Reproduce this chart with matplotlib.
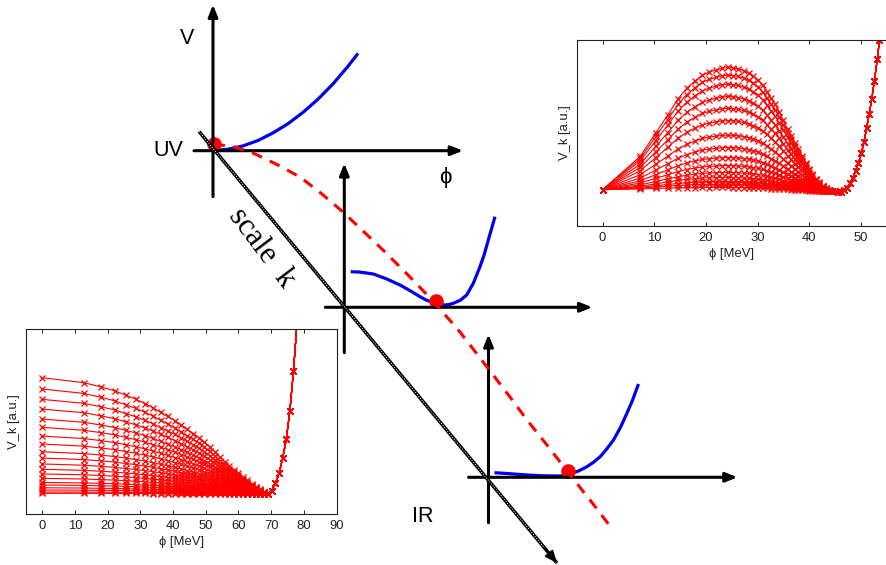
import numpy as np
import matplotlib
matplotlib.use("Agg")
import matplotlib.pyplot as plt

plt.rcParams['font.family'] = ['Liberation Sans', 'DejaVu Sans']

# ---------------- data: upper-right inset (broken-phase flow) ----------------
tr_phi = [0, 7.3, 10.3, 12.6, 14.6, 16.3, 17.9, 19.3, 20.6, 21.9, 23.1, 24.2, 25.3,
          26.3, 27.3, 28.3, 29.2, 30.1, 31.0, 31.8, 32.6, 33.4, 34.2, 35.0, 35.8,
          36.5, 37.2, 37.9, 38.6, 39.3, 40.0, 40.6, 41.3, 41.9, 42.6, 43.2, 43.8,
          44.4, 45.0]
tr_floor = [19.4, 19.4, 19.4, 19.4, 19.3, 19.3, 19.3, 19.3, 19.2, 19.2, 19.2, 19.2,
            19.1, 19.1, 19.1, 19.1, 19.0, 19.0, 19.0, 19.0, 18.9, 18.9, 18.9, 18.9,
            18.8, 18.8, 18.8, 18.8, 18.8, 18.7, 18.7, 18.7, 18.7, 18.7, 18.6, 18.6,
            18.6, 18.6, 18.6]
tr_profile = [0, 0.272, 0.463, 0.608, 0.743, 0.829, 0.889, 0.935, 0.962, 0.98, 0.993,
              1.0, 0.998, 0.99, 0.976, 0.956, 0.932, 0.898, 0.857, 0.806, 0.752, 0.705,
              0.64, 0.572, 0.504, 0.451, 0.39, 0.337, 0.284, 0.232, 0.18, 0.139, 0.101,
              0.071, 0.045, 0.024, 0.012, 0.005, 0.0]
tr_peaks = [66.0, 61.9, 57.0, 50.4, 44.0, 37.4, 29.6, 22.9, 17.5, 13.2, 9.5, 6.8, 4.6, 3.2, 1.4]
tr_tail_phi = [45.6, 46.2, 46.7, 47.3, 47.9, 48.4, 49.0, 49.5, 50.1, 50.6, 51.1, 51.6,
               52.1, 52.6, 53.2, 53.6, 54.1]
tr_tail_v = [18.2, 18.3, 19.0, 20.5, 22.8, 25.5, 29.5, 33.5, 39.0, 45.0, 52.5, 60.0,
             68.0, 77.8, 90.0, 100.0, 110.0]
tr_xticks = [0, 10, 20, 30, 40, 50]

# ---------------- data: lower-left inset (symmetric-phase flow) ----------------
bl_phi = [0, 12.8, 18.1, 22.2, 25.6, 28.6, 31.4, 33.9, 36.2, 38.4, 40.5, 42.5, 44.3,
          46.2, 47.9, 49.6, 51.2, 52.8, 54.3, 55.8, 57.2, 58.7, 60.0, 61.4, 62.7,
          64.0, 65.3, 66.5, 67.7, 68.9]
bl_profile = [1.0, 0.957, 0.920, 0.887, 0.849, 0.816, 0.778, 0.742, 0.702, 0.667, 0.630,
              0.593, 0.556, 0.520, 0.485, 0.447, 0.405, 0.362, 0.318, 0.278, 0.242,
              0.207, 0.178, 0.146, 0.117, 0.089, 0.063, 0.040, 0.019, 0.0]
bl_floor = 10.8
bl_heights = [63.0, 56.9, 51.3, 46.0, 40.6, 36.1, 31.4, 27.1, 22.9, 19.5, 16.3, 13.4,
              10.9, 8.5, 6.3, 4.9, 3.4, 2.2, 1.1, 0.4]
bl_tail_phi = [70.1, 71.3, 72.4, 73.5, 74.6, 75.7, 76.8, 77.9]
bl_tail_v = [12.6, 16.6, 22.0, 30.3, 40.5, 56.0, 77.5, 104.0]
bl_xticks = [0, 10, 20, 30, 40, 50, 60, 70, 80, 90]

# ---------------- data: schematic potentials (local units) ----------------
uv_phi = [0, 15, 30, 45, 60, 75, 90, 105, 120, 135, 145]
uv_V = [0, 1.5, 4.8, 10.2, 17.8, 27.0, 38.3, 51.5, 66.8, 84.4, 97.3]
mid_phi = [6.4, 15, 29, 42, 55.7, 66, 75.7, 82, 89, 94, 99, 104, 109, 116, 122.4,
           129, 135.7, 140, 144, 150.7]
mid_V = [35.6, 35.3, 33.3, 28.5, 22.3, 16.5, 10.6, 7.2, 4.6, 3.0, 2.3, 2.6, 4.0, 7.0,
         12.3, 24.0, 40.6, 53.0, 67.3, 90.6]
ir_phi = [6, 20, 38.4, 55, 71.7, 81.7, 90, 98.4, 105, 111.7, 118, 125, 132, 138.4, 144, 150]
ir_V = [4.6, 3.7, 2.3, 1.5, 1.3, 3.3, 6.3, 10.6, 15, 20.6, 28, 37.3, 50, 64, 77, 93.3]
min_phi = [1, 91.7, 79]          # red dot (minimum) in each panel
min_V = [6.7, 6.6, 6.6]

# flow of the minimum (dashed) and scale axis, figure pixel frame
flow_x = [214, 235, 253, 276, 300, 322, 343, 363, 383, 408, 433, 460, 487, 510, 527,
          547, 567, 590, 613]
flow_y = [144, 147, 153, 164, 177, 194, 212, 231, 250, 275, 301, 332, 367, 397, 420,
          445, 471, 500, 530]
scale_x = [199, 557]
scale_y = [131.5, 563]

W, H = 886, 565
fig = plt.figure(figsize=(W / 100, H / 100), dpi=100)


def px_axes(left, top, right, bottom, **kw):
    return fig.add_axes([left / W, 1 - bottom / H, (right - left) / W, (bottom - top) / H], **kw)


RED = '#ff0000'
INK = '#222222'
PHI = '\u03d5'


def style_inset(ax, xlim, xticks):
    ax.set_xlim(*xlim)
    ax.set_ylim(0, 100)
    ax.set_xticks(xticks)
    ax.set_yticks([])
    ax.tick_params(axis='x', direction='in', top=True, bottom=True, length=3,
                   width=0.7, pad=4.5, labelsize=9.4, colors=INK, labelcolor=INK)
    for s in ax.spines.values():
        s.set_linewidth(0.8)
        s.set_color(INK)
    ax.set_ylabel('V_k [a.u.]', fontsize=9.4, color=INK, labelpad=4)
    ax.set_xlabel(PHI + ' [MeV]', fontsize=9.4, color=INK, labelpad=3)


# upper-right inset
ax_tr = px_axes(576.7, 40, 886.7, 225.7)
style_inset(ax_tr, (-5, 55), tr_xticks)
prof = np.array(tr_profile)
floor = np.array(tr_floor)
for pk in tr_peaks:
    v = floor + pk * prof
    ax_tr.plot(np.r_[tr_phi, tr_tail_phi], np.r_[v, tr_tail_v], color=RED, lw=0.8,
               marker='x', ms=4.3, mew=0.9)

# lower-left inset
ax_bl = px_axes(25.7, 329.3, 336.7, 514)
style_inset(ax_bl, (-5, 90), bl_xticks)
bprof = np.array(bl_profile)
for hgt in bl_heights:
    v = bl_floor + hgt * bprof
    ax_bl.plot(np.r_[bl_phi, bl_tail_phi], np.r_[v, bl_tail_v], color=RED, lw=0.8,
               marker='x', ms=4.3, mew=0.9)

# schematic panels
panels = [
    ((213, 150.7), (-19, 250), (-46, 146), uv_phi, uv_V),
    ((344.3, 307.3), (-19, 248), (-45.4, 144), mid_phi, mid_V),
    ((488.5, 477.3), (-20, 249), (-45.4, 143), ir_phi, ir_V),
]
m = 14
for i, ((ox, oy), (x0, x1), (y0, y1), ph, vv) in enumerate(panels):
    ax = px_axes(ox + x0 - m, oy - y1 - m, ox + x1 + m, oy - y0 + m)
    ax.set_xlim(x0 - m, x1 + m)
    ax.set_ylim(y0 - m, y1 + m)
    ax.axis('off')
    ax.patch.set_alpha(0)
    ax.set_zorder(2)
    ap = dict(arrowstyle='-|>,head_length=0.7,head_width=0.28', lw=2.2, color='k',
              mutation_scale=10, shrinkA=0, shrinkB=0)
    ax.annotate('', xy=(x1, 0), xytext=(x0, 0), arrowprops=ap, annotation_clip=False)
    ax.annotate('', xy=(0, y1), xytext=(0, y0), arrowprops=ap, annotation_clip=False)
    ax.plot(ph, vv, color='#0000ee', lw=2.3, solid_capstyle='butt', clip_on=False)
    ax.plot([min_phi[i]], [min_V[i]], 'o', color=RED, ms=10.5, mew=0, clip_on=False)

# overlay: scale axis, flow of minimum, labels
ov = px_axes(0, 0, W, H)
ov.set_xlim(0, W)
ov.set_ylim(H, 0)
ov.axis('off')
ov.patch.set_alpha(0)
ov.set_zorder(3)
ov.plot(scale_x, scale_y, color='k', lw=2.5, solid_capstyle='butt')
ov.plot(scale_x, scale_y, color='white', lw=0.7, linestyle=(0, (1.0, 1.6)))
ov.annotate('', xy=(scale_x[1], scale_y[1]), xytext=(scale_x[1] - 12, scale_y[1] - 14.5),
            arrowprops=dict(arrowstyle='-|>,head_length=0.7,head_width=0.3', lw=1.5,
                            color='k', mutation_scale=10, shrinkA=0, shrinkB=0),
            annotation_clip=False)
ov.plot(flow_x, flow_y, color=RED, lw=2.2, linestyle=(0, (3.6, 2.8)))

ov.text(187, 38, 'V', fontsize=15.5, ha='center', va='center')
ov.text(168, 150, 'UV', fontsize=15.5, ha='center', va='center')
ov.text(445, 177, PHI, fontsize=16, ha='center', va='center')
ov.text(423, 516, 'IR', fontsize=15.5, ha='center', va='center')
ov.text(262, 248, 'scale  k', fontsize=22, ha='center', va='center', rotation=-53,
        rotation_mode='anchor', family=['Liberation Serif', 'DejaVu Serif'])

fig.savefig('out.png', dpi=100)
